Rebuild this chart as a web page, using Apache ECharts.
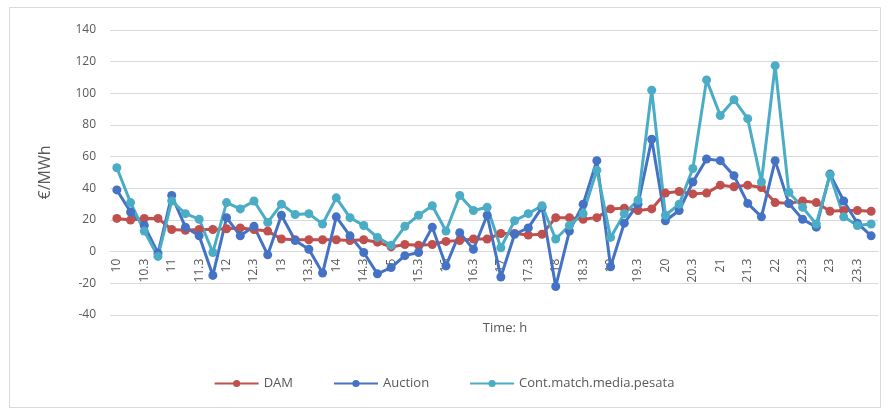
<!DOCTYPE html>
<html>
<head>
<meta charset="utf-8">
<script src="https://cdn.jsdelivr.net/npm/echarts@6/dist/echarts.min.js"></script>
<style>html,body{margin:0;padding:0;background:#fff;}#c{width:888px;height:412px;}</style>
</head>
<body>
<div id="c"></div>
<script>
var categories = ["10","10.15","10.3","10.45","11","11.15","11.3","11.45","12","12.15","12.3","12.45",
  "13","13.15","13.3","13.45","14","14.15","14.3","14.45","15","15.15","15.3","15.45",
  "16","16.15","16.3","16.45","17","17.15","17.3","17.45","18","18.15","18.3","18.45",
  "19","19.15","19.3","19.45","20","20.15","20.3","20.45","21","21.15","21.3","21.45",
  "22","22.15","22.3","22.45","23","23.15","23.3","23.45"];
var dam = [21,20,21,21,14,13.5,14,14,14.5,15,14,13,8,7.5,7.5,7.5,7.5,7,7.5,6,3,4.5,4,4.5,
  6.5,7,8,8,11.5,11.5,10.5,11,21.5,21.5,20.5,21.5,27,27.5,26,27,37,38,36.5,37,42,41,42,40.5,
  31,30.5,32,31,25.5,26,26,25.5];
var auction = [39,25,16.5,-1,35.5,15.5,10,-15,21.5,10,16,-2,23,7,1.5,-13.5,22,10,-0.5,-14,-10,-2.5,-0.5,15.5,
  -9,12,1.5,23,-16,11,15,28,-22,13,30,57.5,-9.5,18,30,71,19.5,26,44,58.5,57.5,48,30.5,22,
  57.5,30.5,20.5,15.5,49,32,18,10];
var contMatch = [53,31,13,-3,32,24,20.5,-0.5,31,27,32,18.5,30,23.5,24,17.5,34,21.5,16.5,9,4,16,23,29,
  13,35.5,26,28,2.5,19.5,24,29,8,16.5,24,51.5,9,24,32.5,102,23,30,52.5,108.5,86,96,84,44,
  117.5,37.5,28,17.5,48.5,22,16.5,17.5];
var yTicks = {min:-40, max:140, interval:20};
var seriesNames = ["DAM","Auction","Cont.match.media.pesata"];
var xTitle = "Time: h";
var colors = ["#C0504D","#4472C4","#4BACC6"];

var gridTop = 30, gridBottom = 97, H = 412;
var gridH = H - gridTop - gridBottom;
var zeroOffset = -gridH * (0 - yTicks.min) / (yTicks.max - yTicks.min);

var chart = echarts.init(document.getElementById('c'), null, {renderer:'canvas'});
var font = "'Open Sans', 'Liberation Sans', sans-serif";
function mk(name, data, color){
  return {name:name, type:'line', data:data, symbol:'circle', symbolSize:9,
    lineStyle:{width:3, color:color}, itemStyle:{color:color}, emphasis:{disabled:true}};
}
chart.setOption({
  animation:false,
  color:colors,
  textStyle:{fontFamily:font},
  title:{text:xTitle, left:505, top:322, textAlign:'center', padding:0,
    textStyle:{color:'#595959', fontSize:13, fontWeight:'normal', fontFamily:font}},
  grid:{left:110, right:10, top:gridTop, bottom:gridBottom, containLabel:false},
  graphic:[
    {type:'rect', shape:{x:9.5,y:7.5,width:871,height:400}, style:{fill:'none', stroke:'#d9d9d9', lineWidth:1}}
  ],
  legend:{data:seriesNames, bottom:17, left:'center', itemGap:40, itemWidth:44, itemHeight:9,
    textStyle:{color:'#595959', fontSize:13, fontFamily:font}},
  xAxis:{type:'category', data:categories, boundaryGap:true, offset:zeroOffset,
    axisLine:{onZero:false, lineStyle:{color:'#d9d9d9', width:1}},
    axisTick:{show:false},
    axisLabel:{interval:1, rotate:90, color:'#595959', fontSize:12, margin:7, fontFamily:font}},
  yAxis:{type:'value', min:yTicks.min, max:yTicks.max, interval:yTicks.interval,
    name:'€/MWh', nameLocation:'middle', nameGap:57, nameRotate:90,
    nameTextStyle:{color:'#595959', fontSize:16, fontFamily:font},
    axisLine:{show:false}, axisTick:{show:false},
    axisLabel:{color:'#595959', fontSize:12, margin:14, fontFamily:font},
    splitLine:{lineStyle:{color:'#d9d9d9', width:1}}},
  series:[mk(seriesNames[0], dam, colors[0]), mk(seriesNames[1], auction, colors[1]), mk(seriesNames[2], contMatch, colors[2])]
});
</script>
</body>
</html>
